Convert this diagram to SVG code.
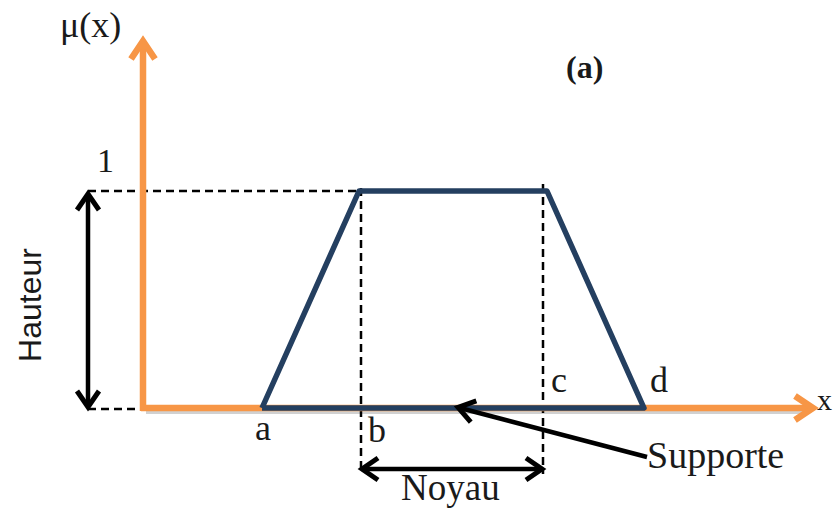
<svg xmlns="http://www.w3.org/2000/svg" width="833" height="508" viewBox="0 0 833 508">
<style>
.serif{font-family:"Liberation Serif","Times New Roman",serif;fill:#1a1a1a}
.axis{stroke:#F79646;stroke-width:6.5;fill:none}
.shadow{stroke:#9a9a9a;stroke-opacity:0.45;stroke-width:6;fill:none}
.trap{stroke:#243F60;stroke-width:5.5;fill:none;stroke-linejoin:round}
.dash{stroke:#000;stroke-width:2.5;stroke-dasharray:8,5;fill:none}
.blk{stroke:#000;stroke-width:4.5;fill:none}
</style>
<defs>
<marker id="oarr" markerUnits="userSpaceOnUse" markerWidth="40" markerHeight="40" viewBox="-30 -20 40 40" refX="-3" refY="0" orient="auto" overflow="visible">
<path d="M-18,-12 L0,0 L-18,12" fill="none" stroke="#F79646" stroke-width="6.5" stroke-linejoin="miter"/>
</marker>
<marker id="barr" markerUnits="userSpaceOnUse" markerWidth="40" markerHeight="40" viewBox="-30 -20 40 40" refX="-2" refY="0" orient="auto-start-reverse" overflow="visible">
<path d="M-16,-11 L0,0 L-16,11" fill="none" stroke="#000" stroke-width="5" stroke-linejoin="miter"/>
</marker>
</defs>
<g id="connectors">
<line class="shadow" x1="146" y1="411" x2="806" y2="411"/>
<line id="dash-top" class="dash" x1="88" y1="191" x2="360" y2="191"/>
<line id="dash-bottom" class="dash" x1="88" y1="409" x2="143" y2="409"/>
<line id="dash-b" class="dash" x1="361" y1="188" x2="361" y2="474"/>
<line id="dash-c" class="dash" x1="543" y1="184" x2="543" y2="474"/>
<line id="y-axis" class="axis" x1="143" y1="411" x2="143" y2="44" marker-end="url(#oarr)"/>
<line id="x-axis" class="axis" x1="141" y1="408" x2="810" y2="408" marker-end="url(#oarr)"/>
<polyline id="trapezoid" class="trap" points="262,408 359,191 547,191 644,408 262,408"/>
<line id="hauteur-arrow" class="blk" x1="88" y1="196" x2="88" y2="405" marker-start="url(#barr)" marker-end="url(#barr)"/>
<line id="noyau-arrow" class="blk" x1="364" y1="469" x2="540" y2="469" marker-start="url(#barr)" marker-end="url(#barr)"/>
<line id="supporte-arrow" class="blk" x1="647" y1="457" x2="460" y2="408" marker-end="url(#barr)"/>
</g>
<g id="labels">
<text class="serif" x="60" y="37" font-size="36">μ(x)</text>
<text class="serif" x="97" y="172" font-size="34">1</text>
<text class="serif" x="566" y="78" font-size="32" font-weight="bold">(a)</text>
<text class="serif" x="255" y="440" font-size="36">a</text>
<text class="serif" x="368" y="442" font-size="36">b</text>
<text class="serif" x="551" y="392" font-size="36">c</text>
<text class="serif" x="650" y="392" font-size="36">d</text>
<text class="serif" x="817" y="410" font-size="30">x</text>
<text class="serif" x="647" y="468" font-size="38">Supporte</text>
<text class="serif" x="401" y="500" font-size="37">Noyau</text>
<text x="41" y="305" font-size="32" font-family="Liberation Sans, Arial, sans-serif" fill="#1a1a1a" text-anchor="middle" transform="rotate(-90 41 305)">Hauteur</text>
</g>
</svg>
